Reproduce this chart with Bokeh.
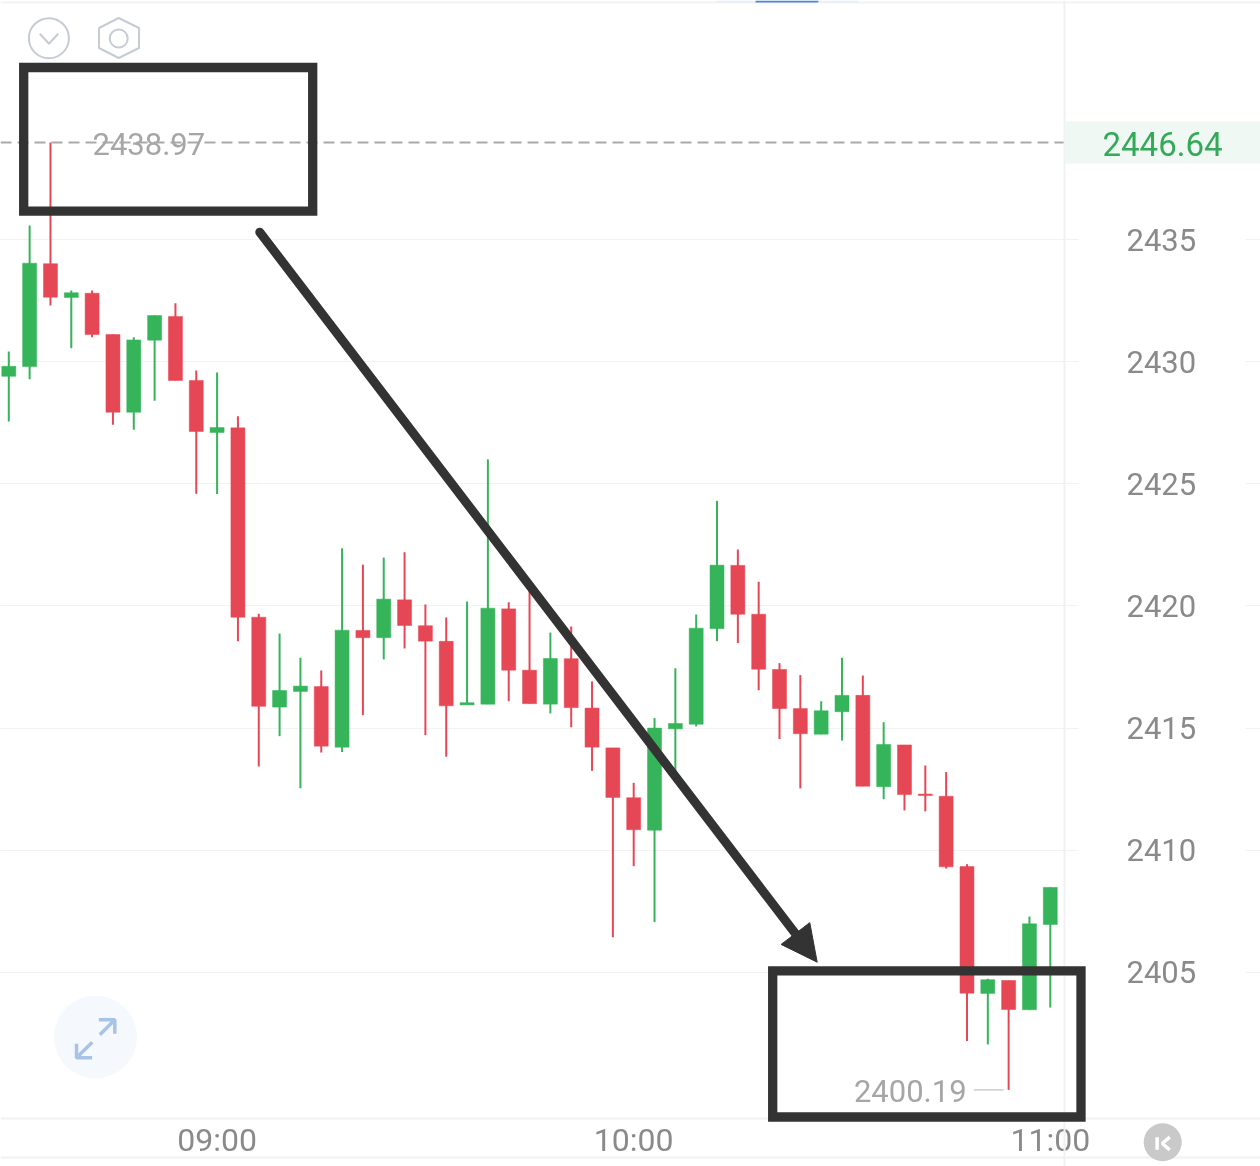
from bokeh.plotting import figure
from bokeh.embed import file_html
from bokeh.resources import INLINE
from bokeh.core.properties import value
from bokeh.models import (Arrow, BoxAnnotation, ColumnDataSource, FixedTicker,
                          NormalHead, PolyAnnotation)

# ---- data ----
opens = [2429.40, 2429.80, 2434.01, 2432.63, 2432.80, 2431.11, 2427.93, 2430.88, 2431.85, 2429.23,
         2427.10, 2427.29, 2419.54, 2415.86, 2416.50, 2416.70, 2414.22, 2419.00, 2418.70, 2420.25,
         2419.19, 2418.55, 2415.95, 2415.98, 2419.88, 2417.37, 2415.98, 2417.84, 2415.82, 2414.19,
         2412.15, 2410.82, 2414.97, 2415.16, 2419.07, 2421.66, 2419.66, 2417.40, 2415.80, 2414.75,
         2415.67, 2416.34, 2412.60, 2414.31, 2412.30, 2412.21, 2409.33, 2404.14, 2404.67, 2403.47,
         2406.96]
highs = [2430.42, 2435.57, 2438.97, 2432.91, 2432.91, 2431.11, 2431.00, 2431.89, 2432.39, 2429.64,
         2429.56, 2427.76, 2419.68, 2418.87, 2417.88, 2417.36, 2422.36, 2421.69, 2421.98, 2422.20,
         2420.06, 2419.53, 2420.18, 2426.00, 2420.15, 2420.63, 2418.91, 2419.16, 2416.91, 2414.19,
         2412.76, 2415.41, 2417.45, 2419.65, 2424.30, 2422.31, 2420.99, 2417.66, 2417.17, 2416.10,
         2417.88, 2417.15, 2415.24, 2414.31, 2413.47, 2413.20, 2409.43, 2404.74, 2404.67, 2407.29,
         2408.48]
lows = [2427.55, 2429.28, 2432.30, 2430.55, 2431.00, 2427.42, 2427.21, 2428.40, 2429.23, 2424.59,
        2424.58, 2418.56, 2413.43, 2414.67, 2412.54, 2414.00, 2414.02, 2415.53, 2417.81, 2418.26,
        2414.71, 2413.83, 2415.95, 2415.98, 2416.10, 2416.00, 2415.60, 2415.03, 2413.25, 2406.44,
        2409.35, 2407.06, 2413.27, 2415.07, 2418.56, 2418.48, 2416.55, 2414.55, 2412.53, 2414.75,
        2414.49, 2412.62, 2412.09, 2411.63, 2411.59, 2409.25, 2402.19, 2402.05, 2400.19, 2403.47,
        2403.56]
closes = [2429.81, 2434.03, 2432.64, 2432.82, 2431.11, 2427.93, 2430.89, 2431.89, 2429.23, 2427.14,
          2427.30, 2419.54, 2415.89, 2416.54, 2416.72, 2414.26, 2419.01, 2418.70, 2420.28, 2419.20,
          2418.56, 2415.91, 2416.04, 2419.91, 2417.37, 2416.00, 2417.85, 2415.84, 2414.22, 2412.16,
          2410.84, 2415.00, 2415.19, 2419.09, 2421.67, 2419.66, 2417.41, 2415.80, 2414.77, 2415.71,
          2416.34, 2412.62, 2414.33, 2412.28, 2412.24, 2409.32, 2404.15, 2404.70, 2403.48, 2406.99,
          2408.48]
price_ticks = [2405, 2410, 2415, 2420, 2425, 2430, 2435]
time_ticks = [10, 30, 50]
time_labels = ["09:00", "10:00", "11:00"]
current_price = "2446.64"

# ---- pixel geometry of the picture ----
W, H = 1260, 1166
BAR_PX = 20.83
X_FIRST = 8.3
PRICE_PX = 24.43
Y_2435 = 239.0


def dx(px):
    return (px - X_FIRST) / BAR_PX


def dy(py):
    return 2435 + (Y_2435 - py) / PRICE_PX


def sy(py):
    # annotation "screen" units count upward from the canvas bottom
    return H - py


GREEN, RED = "#35b45a", "#e64755"
INK = "#333333"

p = figure(width=W, height=H, output_backend="svg", toolbar_location=None,
           x_range=(dx(0), dx(W)), y_range=(dy(H), dy(0)),
           y_axis_location="right", min_border=0, outline_line_color=None,
           background_fill_color="white", border_fill_color="white",
           styles={"position": "fixed", "left": "0px", "top": "0px"})

# ---- axes ----
p.xgrid.visible = False
p.ygrid.ticker = FixedTicker(ticks=price_ticks)
p.ygrid.grid_line_color = "#f0f3f4"
p.ygrid.grid_line_width = 1

ya = p.yaxis[0]
ya.fixed_location = dx(1064)
ya.ticker = FixedTicker(ticks=price_ticks)
ya.axis_line_color = "#f1f1f3"
ya.axis_line_width = 2
ya.major_tick_line_color = "#f0f3f4"
ya.major_tick_out = 14
ya.major_tick_in = 0
ya.minor_tick_line_color = None
ya.major_label_standoff = 48
ya.major_label_text_font = "Roboto"
ya.major_label_text_font_size = "31px"
ya.major_label_text_color = "#8a8a8a"

xa = p.xaxis[0]
xa.fixed_location = dy(1118)
xa.ticker = FixedTicker(ticks=time_ticks)
xa.major_label_overrides = dict(zip(time_ticks, time_labels))
xa.axis_line_color = "#f1f1f3"
xa.axis_line_width = 2
xa.major_tick_line_color = None
xa.minor_tick_line_color = None
xa.major_label_standoff = -4
xa.major_label_text_font = "Roboto"
xa.major_label_text_font_size = "32px"
xa.major_label_text_color = "#8a8a8a"


def strip(left=None, right=None, top=None, bottom=None, color="#f2f2f2", level="underlay"):
    kw = {}
    if left is not None:
        kw.update(left=left, left_units="screen")
    if right is not None:
        kw.update(right=right, right_units="screen")
    if top is not None:
        kw.update(top=sy(top), top_units="screen")
    if bottom is not None:
        kw.update(bottom=sy(bottom), bottom_units="screen")
    p.add_layout(BoxAnnotation(fill_color=color, fill_alpha=1, line_alpha=0, level=level, **kw))


# white band behind the price labels, tag behind the current price, chrome lines
strip(left=1078, right=1245, top=170, bottom=1100, color="white")
strip(left=1065, right=W, top=121, bottom=163, color="#eff8f2")
strip(top=1, bottom=3, color="#f2f3f4")
strip(top=1156, bottom=1158, color="#f1f1f3")
strip(left=715, right=755, top=0, bottom=2, color="#e6eff9")
strip(left=755, right=818, top=0, bottom=2, color="#4a86d8")
strip(left=818, right=858, top=0, bottom=2, color="#e6eff9")

# ---- high line ----
hi_i = highs.index(max(highs))
lo_i = lows.index(min(lows))
p.segment(x0=[dx(0)], x1=[dx(1064)], y0=[highs[hi_i]], y1=[highs[hi_i]],
          line_color="#aaaaaa", line_width=2, line_dash="11 6")

# ---- candles ----
idx = list(range(len(opens)))
colors = [GREEN if c >= o else RED for o, c in zip(opens, closes)]
src = ColumnDataSource(dict(
    x=idx, o=opens, h=highs, l=lows, c=closes, color=colors,
    top=[max(o, c) for o, c in zip(opens, closes)],
    bottom=[min(o, c) for o, c in zip(opens, closes)],
))
p.segment(x0="x", x1="x", y0="l", y1="h", source=src, line_color="color", line_width=2)
p.vbar(x="x", top="top", bottom="bottom", width=14 / BAR_PX, source=src,
       fill_color="color", line_color="color", line_width=0.5)

# ---- high / low / current labels ----
p.text(x=[hi_i], y=[highs[hi_i]], text=[f"{highs[hi_i]:.2f}"], x_offset=42, y_offset=1,
       text_align="left", text_baseline="middle", text_color="#a6a6a6",
       text_font=value("Roboto"), text_font_size="31px")
p.text(x=[lo_i], y=[lows[lo_i]], text=[f"{lows[lo_i]:.2f}"], x_offset=-42, y_offset=1,
       text_align="right", text_baseline="middle", text_color="#a6a6a6",
       text_font=value("Roboto"), text_font_size="31px")
p.segment(x0=[lo_i - 35 / BAR_PX], x1=[lo_i - 5 / BAR_PX], y0=[lows[lo_i]], y1=[lows[lo_i]],
          line_color="#cccccc", line_width=1.5)
p.text(x=[dx(1162)], y=[highs[hi_i]], text=[current_price], y_offset=1,
       text_align="center", text_baseline="middle", text_color="#35a95a",
       text_font=value("Roboto"), text_font_size="33px")

# ---- icons ----
ICON = "#c6ccd4"
p.scatter(x=[dx(48.4)], y=[dy(37.7)], size=40, marker="circle", fill_alpha=0,
          line_color=ICON, line_width=2)
p.line(x=[dx(39.3), dx(48.5), dx(57.7)], y=[dy(33.3), dy(43.3), dy(33.3)],
       line_color=ICON, line_width=2)
p.add_layout(PolyAnnotation(xs=[118.2, 138.5, 138.5, 118.2, 98.5, 98.5],
                            ys=[sy(v) for v in (17.5, 27.5, 47.5, 57.5, 47.5, 27.5)],
                            xs_units="screen", ys_units="screen", fill_alpha=0,
                            line_color=ICON, line_alpha=1, line_width=2))
p.scatter(x=[dx(118.2)], y=[dy(38)], size=18, marker="circle", fill_alpha=0,
          line_color=ICON, line_width=2)

p.scatter(x=[dx(95)], y=[dy(1036.5)], size=83, marker="circle",
          fill_color="#f5f9fe", line_alpha=0)
EXP = "#a8c3e8"
for xs, ys in (
    ([99.3, 114.3], [1034.3, 1019.3]),
    ([98.3, 114.3, 114.3], [1019.3, 1019.3, 1033.3]),
    ([91.7, 76], [1041.7, 1057.3]),
    ([76, 76, 91.7], [1043.3, 1057.3, 1057.3]),
):
    p.line(x=[dx(v) for v in xs], y=[dy(v) for v in ys], line_color=EXP, line_width=3.5)

p.scatter(x=[dx(1162.2)], y=[dy(1141.7)], size=38, marker="circle",
          fill_color="#c9c9c9", line_alpha=0)
p.line(x=[dx(1156.6)] * 2, y=[dy(1136.7), dy(1149.3)], line_color="white", line_width=3.5)
p.line(x=[dx(1169.3), dx(1161.7), dx(1169.3)], y=[dy(1136.7), dy(1143), dy(1149.3)],
       line_color="white", line_width=3.5)

# ---- hand-drawn overlay: two boxes and the arrow ----
for l, r, t, b in ((23.2, 312.2, 67, 210.7), (772.2, 1080.5, 970.3, 1116.5)):
    p.add_layout(BoxAnnotation(left=l, right=r, top=sy(t), bottom=sy(b),
                               left_units="screen", right_units="screen",
                               top_units="screen", bottom_units="screen",
                               fill_alpha=0, line_color=INK, line_width=9.3,
                               line_alpha=1, line_join="miter", level="overlay"))
p.line(x=[dx(259.3), dx(801.5)], y=[dy(231.7), dy(941.8)], line_color=INK, line_width=9,
       line_cap="round", level="overlay")
p.add_layout(Arrow(x_start=790, y_start=sy(926.5), x_end=816.7, y_end=sy(961.7),
                   start_units="screen", end_units="screen",
                   line_alpha=0, level="overlay",
                   end=NormalHead(size=36, fill_color=INK, line_color=INK, line_width=1)))

open("out.html", "w").write(file_html(p, INLINE))
